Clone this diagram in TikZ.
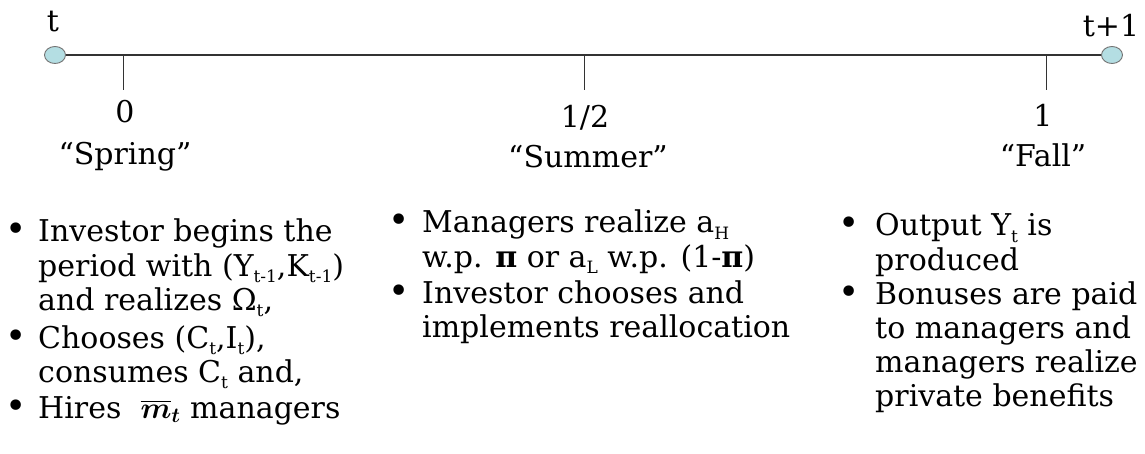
\RequirePackage{fix-cm}
\documentclass[tikz,border=0pt]{standalone}
\usepackage{amsmath,bm}
\usepackage{fontspec}
\setmainfont{DejaVu Serif}
\usetikzlibrary{shapes.geometric}
\definecolor{dotfill}{HTML}{B4DEE3}
% lowered small index, as in Y_t
\newcommand{\lo}[1]{\raisebox{-0.4ex}{\fontsize{17}{17}\selectfont #1}}
% lines of one item; the first line gives the baseline
\newcommand{\itemlines}[1]{\begin{tabular}[t]{@{}l@{}}#1\end{tabular}}
\begin{document}
\begin{tikzpicture}[x=1pt,y=-1pt,
  endpt/.style={ellipse, draw=black!55, fill=dotfill, minimum width=21pt,
    minimum height=17pt, inner sep=0pt, line width=0.9pt},
  axis/.style={draw=black!80, line width=1.3pt},
  tickmark/.style={draw=black!80, line width=1pt},
  lbl/.style={inner sep=0pt, anchor=base, font=\fontsize{30}{30}\selectfont},
  body/.style={inner sep=0pt, anchor=base west,
    font=\fontsize{30}{34.3}\selectfont},
  bul/.style={inner sep=0pt, anchor=base, font=\fontsize{36}{36}\selectfont}]
\useasboundingbox (0,0) rectangle (1145,454);

% time line with its two end points
\node[endpt] (t0) at (55,55) {};
\node[endpt] (t1) at (1112,55) {};
\draw[axis] (t0) -- (t1);
\node[lbl] (lt0) at (53,32) {t};
\node[lbl] (lt1) at (1111,37) {t+1};

% sub-period ticks
\coordinate (k0) at (123,55);  \coordinate (k0e) at (123,90);
\coordinate (k1) at (584,55);  \coordinate (k1e) at (584,90);
\coordinate (k2) at (1046,55); \coordinate (k2e) at (1046,90);
\draw[tickmark] (k0) -- (k0e);
\draw[tickmark] (k1) -- (k1e);
\draw[tickmark] (k2) -- (k2e);

\node[lbl] (n0) at (125,123) {0};
\node[lbl] (s0) at (125,165) {“Spring”};
\node[lbl] (n1) at (585,128) {1/2};
\node[lbl] (s1) at (588,168) {“Summer”};
\node[lbl] (n2) at (1043,127) {1};
\node[lbl] (s2) at (1043,167) {“Fall”};

% spring events
\node[bul] (bl1) at (16,242) {•};
\node[body] (la) at (38,242) {\itemlines{Investor begins the\\period with (Y\lo{t-1},K\lo{t-1})\\and realizes Ω\lo{t},}};
\node[bul] (bl2) at (16,348) {•};
\node[body] (lb) at (38,348) {\itemlines{Chooses (C\lo{t},I\lo{t}),\\consumes C\lo{t} and,}};
\node[bul] (bl3) at (16,418) {•};
\node[body] (lc) at (38,418) {Hires \ $\overline{\bm{m}}_{\bm{t}}$ managers};

% summer events
\node[bul] (bm1) at (399,233) {•};
\node[body] (ma) at (422,233) {\itemlines{Managers realize a\lo{H}\\w.p. {\bfseries π} or a\lo{L} w.p. (1-{\bfseries π})}};
\node[bul] (bm2) at (399,303) {•};
\node[body] (mb) at (422,303) {\itemlines{Investor chooses and\\implements reallocation}};

% fall events
\node[bul] (br1) at (849,236) {•};
\node[body] (ra) at (875,236) {\itemlines{Output Y\lo{t} is\\produced}};
\node[bul] (br2) at (849,304) {•};
\node[body] (rb) at (875,304) {\itemlines{Bonuses are paid\\to managers and\\managers realize\\private benefits}};
\end{tikzpicture}
\end{document}
